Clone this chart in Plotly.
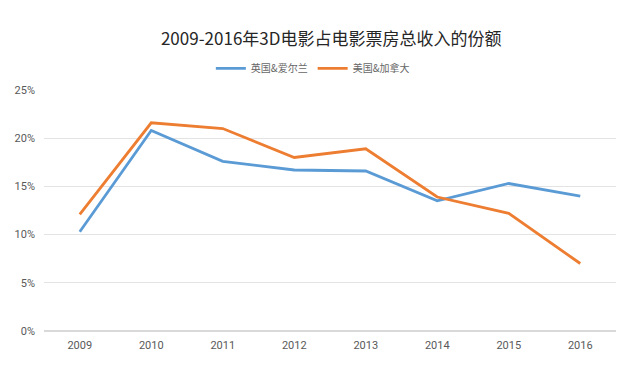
import plotly.graph_objects as go

years = ["2009", "2010", "2011", "2012", "2013", "2014", "2015", "2016"]
uk_ireland = [10.3, 20.8, 17.6, 16.7, 16.6, 13.5, 15.3, 14.0]
us_canada = [12.1, 21.6, 21.0, 18.0, 18.9, 13.9, 12.2, 7.0]
series_names = ["英国&爱尔兰", "美国&加拿大"]
y_ticks = [0, 5, 10, 15, 20, 25]
y_tick_labels = ["0%", "5%", "10%", "15%", "20%", "25%"]

font = "Noto Sans CJK SC, Noto Sans, sans-serif"
tick_font = "Roboto, Noto Sans, sans-serif"

fig = go.Figure()
fig.add_trace(go.Scatter(x=years, y=uk_ireland, mode="lines", name=series_names[0],
                         line=dict(color="#5B9BD5", width=2.8)))
fig.add_trace(go.Scatter(x=years, y=us_canada, mode="lines", name=series_names[1],
                         line=dict(color="#ED7D31", width=2.8)))

fig.update_layout(
    width=640, height=376,
    margin=dict(l=36, r=32, t=82, b=53, autoexpand=False),
    paper_bgcolor="white", plot_bgcolor="white",
    font=dict(family=font, color="#595959", size=11),
    title=dict(text="2009-2016年3D电影占电影票房总收入的份额", x=0.505, xanchor="center",
               y=0.918, yanchor="middle", font=dict(size=17, color="#262626", family=font)),
    legend=dict(orientation="h", x=0.47, xanchor="center", y=1.09, yanchor="middle",
                font=dict(size=10, color="#666666"), itemwidth=30, bgcolor="rgba(0,0,0,0)"),
    showlegend=True,
)
fig.update_xaxes(type="category", range=[-0.5, 7.5], showgrid=False, showline=False,
                 ticks="", tickfont=dict(size=11, color="#595959", family=tick_font),
                 ticklabelstandoff=6, automargin=False)
fig.update_yaxes(range=[0, 25], tickmode="array", tickvals=y_ticks, ticktext=y_tick_labels,
                 showgrid=True, gridcolor="#e3e3e3", gridwidth=1, zeroline=True,
                 zerolinecolor="#d9d9d9", zerolinewidth=1.5, showline=False, ticks="",
                 ticklabelstandoff=8, automargin=False,
                 tickfont=dict(size=11, color="#595959", family=tick_font))

fig.write_html("out.html")
